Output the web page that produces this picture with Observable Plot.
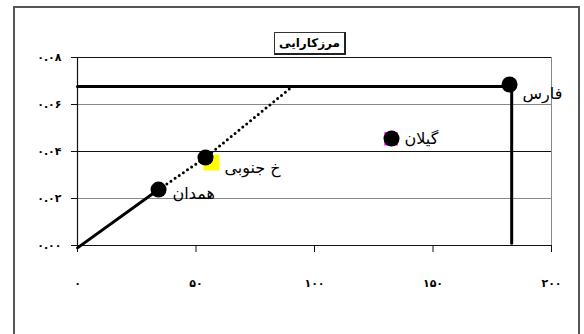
<!DOCTYPE html>
<html>
<head>
<meta charset="utf-8">
<script src="https://cdn.jsdelivr.net/npm/d3@7"></script>
<script src="https://cdn.jsdelivr.net/npm/@observablehq/plot@0.6"></script>
<style>
  html, body { margin: 0; padding: 0; background: #fff; overflow: hidden; }
  #wrap { position: relative; width: 584px; height: 334px; }
  #outer { position: absolute; left: 13px; top: 6px; width: 567px; height: 360px; border: 2px solid #555; box-sizing: border-box; pointer-events: none; }
  #title { position: absolute; left: 274px; top: 32px; width: 72px; height: 23px; box-sizing: border-box;
           border: 1px solid #333; border-right: 2px solid #222; border-bottom: 2px solid #222; background: #fff;
           font: bold 12px "DejaVu Sans", sans-serif; text-align: center; line-height: 20px; direction: rtl; }
  svg { position: absolute; left: 0; top: 0; }
</style>
</head>
<body>
<div id="wrap"></div>
<script>
// ---- data ----
const titleText = "مرزکارایی";
const xTicks = [0, 50, 100, 150, 200];
const yTicks = [0, 0.02, 0.04, 0.06, 0.08];

const provinces = ["همدان", "خ جنوبی", "گیلان", "فارس"];
const provX = [34.2, 54, 132.5, 182.3];
const provY = [0.0238, 0.0374, 0.0455, 0.0685];

// frontier segments
const solidX = [0, 34.2];
const solidY = [-0.001, 0.0238];
const dotX = [34.2, 54, 90.7];
const dotY = [0.0238, 0.0374, 0.0677];
const horizX = [0, 183.2];
const horizY = [0.0677, 0.0677];
const vertX = [183.2, 183.2];
const vertY = [0.0677, 0.001];

// background markers of another series
const yellowX = [56.5];
const yellowY = [0.0353];
const magentaX = [132.3];
const magentaY = [0.0454];

// ---- helpers ----
const faDigits = "۰۱۲۳۴۵۶۷۸۹";
const toFa = s => String(s).replace(/[0-9]/g, d => faDigits[+d]);
const zip = (xs, ys) => xs.map((x, i) => ({x, y: ys[i]}));

const points = provinces.map((name, i) => ({name, x: provX[i], y: provY[i]}));

const labelOffsets = {
  "همدان": [14, 4],
  "خ جنوبی": [19, 10],
  "گیلان": [13, 0],
  "فارس": [13, 9]
};

const font = "DejaVu Sans, sans-serif";

const chart = Plot.plot({
  width: 584,
  height: 334,
  marginLeft: 77,
  marginRight: 33,
  marginTop: 57,
  marginBottom: 89,
  x: {domain: [0, 200], label: null},
  y: {domain: [0, 0.08], label: null},
  style: {fontFamily: font, background: "transparent", overflow: "visible"},
  marks: [
    Plot.frame({stroke: "#888"}),
    Plot.ruleY(yTicks.filter((d, i) => i > 0 && i % 2 === 1), {stroke: "#888", strokeWidth: 1.2}),
    Plot.ruleY(yTicks.filter((d, i) => i > 0 && i % 2 === 0), {stroke: "#111", strokeWidth: 1}),
    Plot.ruleX([0], {stroke: "#111", strokeWidth: 1.2}),
    Plot.ruleY([0], {stroke: "#111", strokeWidth: 1.2}),
    Plot.axisY(yTicks, {tickSize: 6, tickPadding: 10, fontSize: 11, fontWeight: "bold", label: null,
      tickFormat: d => toFa(d.toFixed(2)), stroke: "#111"}),
    Plot.axisX(xTicks, {tickSize: 7, tickPadding: 27, fontSize: 11, fontWeight: "bold", label: null,
      tickFormat: d => toFa(d), stroke: "#111"}),
    // frontier lines
    Plot.line(zip(solidX, solidY), {x: "x", y: "y", stroke: "#000", strokeWidth: 3}),
    Plot.line(zip(dotX, dotY), {x: "x", y: "y", stroke: "#000", strokeWidth: 3,
      strokeDasharray: "0,5", strokeLinecap: "round"}),
    Plot.line(zip(horizX, horizY), {x: "x", y: "y", stroke: "#000", strokeWidth: 3}),
    Plot.line(zip(vertX, vertY), {x: "x", y: "y", stroke: "#000", strokeWidth: 3}),
    // background squares
    Plot.dot(zip(yellowX, yellowY), {x: "x", y: "y", symbol: "square", r: 9, fill: "#ffff00", stroke: "none"}),
    Plot.dot(zip(magentaX, magentaY), {x: "x", y: "y", symbol: "square", r: 7.6, fill: "#ff00ff", stroke: "none"}),
    // province points
    Plot.dot(points, {x: "x", y: "y", r: 8, fill: "#000", stroke: "none"}),
    ...provinces.map(name => Plot.text(points.filter(p => p.name === name), {
      x: "x", y: "y", text: "name", textAnchor: "start",
      dx: labelOffsets[name][0], dy: labelOffsets[name][1],
      fontSize: 16, fill: "#000", fontFamily: font
    }))
  ]
});

const wrap = document.getElementById("wrap");
wrap.appendChild(chart);
const outer = document.createElement("div");
outer.id = "outer";
wrap.appendChild(outer);
const title = document.createElement("div");
title.id = "title";
title.textContent = titleText;
wrap.appendChild(title);
</script>
</body>
</html>
